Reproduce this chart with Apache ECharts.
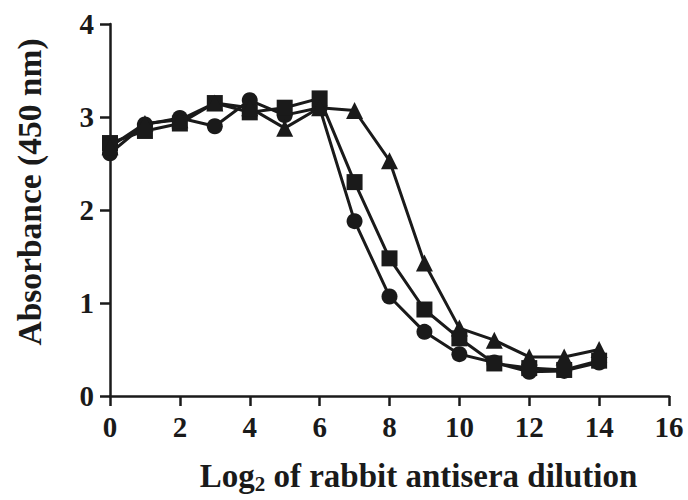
<!DOCTYPE html>
<html>
<head>
<meta charset="utf-8">
<script src="https://cdn.jsdelivr.net/npm/echarts@6/dist/echarts.min.js"></script>
<style>
  html, body { margin: 0; padding: 0; background: #fff; }
  #chart { width: 688px; height: 500px; }
</style>
</head>
<body>
<div id="chart"></div>
<script>
var dilutions = [0, 1, 2, 3, 4, 5, 6, 7, 8, 9, 10, 11, 12, 13, 14]
var circleVals = [2.61, 2.92, 2.99, 2.9, 3.18, 3.02, 3.1, 1.88, 1.07, 0.69, 0.45, 0.36, 0.26, 0.27, 0.36]
var squareVals = [2.72, 2.85, 2.93, 3.15, 3.05, 3.1, 3.2, 2.3, 1.48, 0.93, 0.62, 0.35, 0.3, 0.28, 0.38]
var triangleVals = [2.68, 2.93, 2.97, 3.15, 3.1, 2.88, 3.1, 3.07, 2.53, 1.43, 0.73, 0.6, 0.42, 0.42, 0.5]

var font = 'Liberation Serif'

function pairs (vals) {
  return dilutions.map(function (x, i) { return [x, vals[i]] })
}

function makeSeries (name, symbol, vals, size) {
  return {
    name: name,
    type: 'line',
    symbol: symbol,
    symbolSize: size,
    showSymbol: true,
    lineStyle: { color: '#1a1a1a', width: 3 },
    itemStyle: { color: '#1a1a1a' },
    data: pairs(vals)
  }
}

var chart = echarts.init(document.getElementById('chart'), null, {renderer: 'svg'})
chart.setOption({
  animation: false,
  grid: { left: 110, right: 19, top: 24, bottom: 104, outerBoundsMode: 'none' },
  xAxis: {
    type: 'value',
    min: 0,
    max: 16,
    interval: 2,
    name: '{a|Log}{s|2}{a| of rabbit antisera dilution}',
    nameLocation: 'middle',
    nameGap: 61,
    nameTextStyle: {
      padding: [0, 0, 0, 58],
      rich: {
        a: { fontFamily: font, fontWeight: 'bold', fontSize: 33, color: '#1a1a1a' },
        s: { fontFamily: font, fontWeight: 'bold', fontSize: 21, color: '#1a1a1a', padding: [16, 0, 0, 0] }
      }
    },
    axisLine: { onZero: false, lineStyle: { color: '#1a1a1a', width: 2.5 } },
    axisTick: { length: 10, lineStyle: { color: '#1a1a1a', width: 2.5 } },
    axisLabel: { margin: 16, fontFamily: font, fontWeight: 'bold', fontSize: 29, color: '#1a1a1a' },
    splitLine: { show: false }
  },
  yAxis: {
    type: 'value',
    min: 0,
    max: 4,
    interval: 1,
    name: 'Absorbance (450 nm)',
    nameLocation: 'middle',
    nameGap: 64,
    nameTextStyle: { fontFamily: font, fontWeight: 'bold', fontSize: 33.5, color: '#1a1a1a', padding: [0, 0, 0, 36] },
    axisLine: { show: true, lineStyle: { color: '#1a1a1a', width: 2.5 } },
    axisTick: { show: true, length: 10, lineStyle: { color: '#1a1a1a', width: 2.5 } },
    axisLabel: { margin: 16, fontFamily: font, fontWeight: 'bold', fontSize: 29, color: '#1a1a1a' },
    splitLine: { show: false }
  },
  series: [
    makeSeries('circle', 'circle', circleVals, 16),
    makeSeries('square', 'rect', squareVals, 16),
    makeSeries('triangle', 'triangle', triangleVals, 17)
  ]
})
</script>
</body>
</html>
